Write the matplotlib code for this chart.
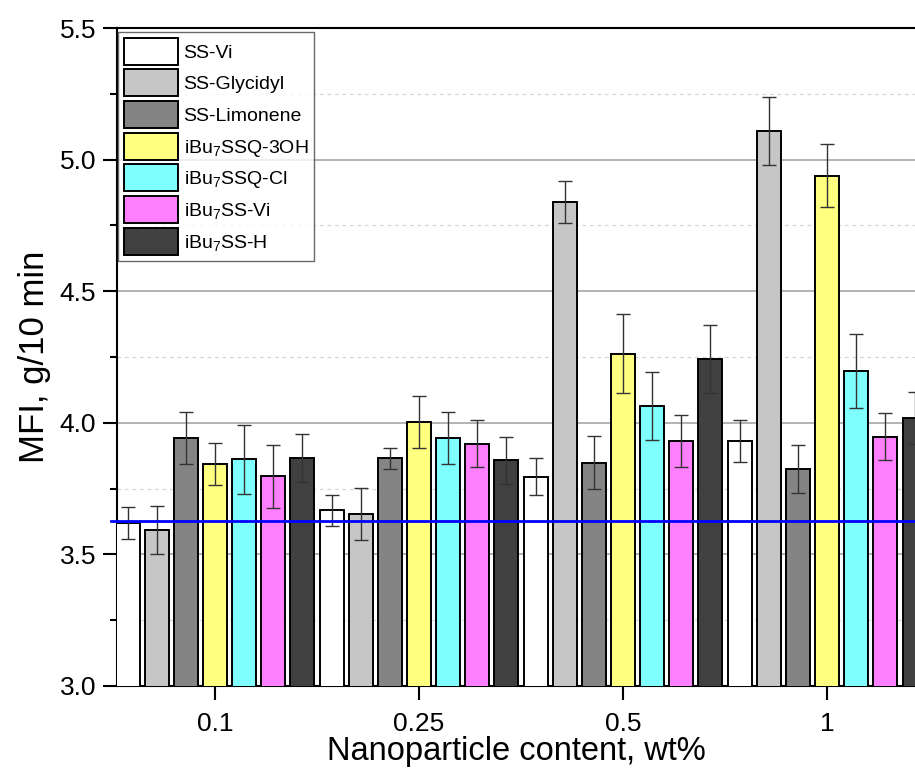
import matplotlib
matplotlib.use("Agg")
import matplotlib.pyplot as plt
import numpy as np

plt.rcParams['font.family'] = ['Liberation Sans', 'DejaVu Sans']
plt.rcParams['mathtext.fontset'] = 'custom'
plt.rcParams['mathtext.rm'] = 'Liberation Sans'
plt.rcParams['mathtext.it'] = 'Liberation Sans'
plt.rcParams['mathtext.default'] = 'regular'

groups = ["0.1", "0.25", "0.5", "1"]
series = ["SS-Vi", "SS-Glycidyl", "SS-Limonene", "iBu$_7$SSQ-3OH",
          "iBu$_7$SSQ-Cl", "iBu$_7$SS-Vi", "iBu$_7$SS-H"]
colors = ["#ffffff", "#c6c6c6", "#848484", "#ffff80", "#80ffff", "#ff80ff", "#404040"]

# values per series, across groups 0.1, 0.25, 0.5, 1
ss_vi       = [3.62, 3.667, 3.795, 3.931]
ss_glyc     = [3.593, 3.653, 4.838, 5.108]
ss_limon    = [3.942, 3.866, 3.848, 3.824]
ssq_3oh     = [3.843, 4.003, 4.263, 4.939]
ssq_cl      = [3.861, 3.942, 4.064, 4.196]
ibu_ss_vi   = [3.797, 3.921, 3.931, 3.947]
ibu_ss_h    = [3.866, 3.857, 4.242, 4.018]

err_ss_vi     = [0.06, 0.06, 0.07, 0.08]
err_ss_glyc   = [0.09, 0.10, 0.08, 0.13]
err_ss_limon  = [0.10, 0.04, 0.10, 0.09]
err_ssq_3oh   = [0.08, 0.10, 0.15, 0.12]
err_ssq_cl    = [0.13, 0.10, 0.13, 0.14]
err_ibu_ss_vi = [0.12, 0.09, 0.10, 0.09]
err_ibu_ss_h  = [0.09, 0.09, 0.13, 0.10]

reference_mfi = 3.627

values = [ss_vi, ss_glyc, ss_limon, ssq_3oh, ssq_cl, ibu_ss_vi, ibu_ss_h]
errors = [err_ss_vi, err_ss_glyc, err_ss_limon, err_ssq_3oh, err_ssq_cl,
          err_ibu_ss_vi, err_ibu_ss_h]

fig = plt.figure(figsize=(9.15, 7.78), dpi=100)
ax = fig.add_axes([0.1279, 0.1183, 0.8721, 0.8457])

n = len(series)
step = 1.0 / n
width = 0.1176
gx = np.arange(len(groups))

for i in range(n):
    xs = gx + (i - (n - 1) / 2) * step
    ax.bar(xs, values[i], width=width, color=colors[i], edgecolor='black',
           linewidth=1.4, label=series[i], zorder=3)
    ax.errorbar(xs, values[i], yerr=errors[i], fmt='none', ecolor='#333333',
                elinewidth=1.0, capsize=4.8, capthick=1.0, zorder=4)

ax.axhline(reference_mfi, xmin=-0.007, xmax=1.0, color='#0000ff',
           linewidth=2.0, zorder=5, clip_on=False)

ax.set_xlim(-0.4804, 3.431)
ax.set_ylim(3.0, 5.5)
ax.set_xticks(gx)
ax.set_xticklabels(groups)
ax.set_yticks([3.0, 3.5, 4.0, 4.5, 5.0, 5.5])
ax.set_yticklabels(["3.0", "3.5", "4.0", "4.5", "5.0", "5.5"])
ax.set_yticks([3.25, 3.75, 4.25, 4.75, 5.25], minor=True)

ax.grid(axis='y', which='major', color='#adadad', linewidth=1.3, zorder=0)
ax.grid(axis='y', which='minor', color='#d6d6d6', linewidth=0.9,
        linestyle=(0, (3, 3)), zorder=0)
ax.set_axisbelow(True)

for s in ['left', 'top', 'bottom']:
    ax.spines[s].set_linewidth(1.5)
ax.spines['right'].set_visible(False)

ax.tick_params(axis='both', which='major', direction='out', length=10,
               width=1.5, labelsize=19, pad=5)
ax.tick_params(axis='y', which='minor', direction='out', length=5, width=1.5)
ax.tick_params(axis='x', which='major', pad=9)

ax.set_xlabel("Nanoparticle content, wt%", fontsize=23.5, labelpad=0)
ax.set_ylabel("MFI, g/10 min", fontsize=25, labelpad=6)

leg = ax.legend(loc='upper left', bbox_to_anchor=(0.001, 0.994),
                borderaxespad=0, fontsize=14, frameon=True, fancybox=False,
                handlelength=2.78, handleheight=1.76, labelspacing=0.24,
                handletextpad=0.3, borderpad=0.3)
leg.get_frame().set_edgecolor('#444444')
leg.get_frame().set_linewidth(1.0)
leg.set_zorder(10)

fig.savefig("out.png", dpi=100)
